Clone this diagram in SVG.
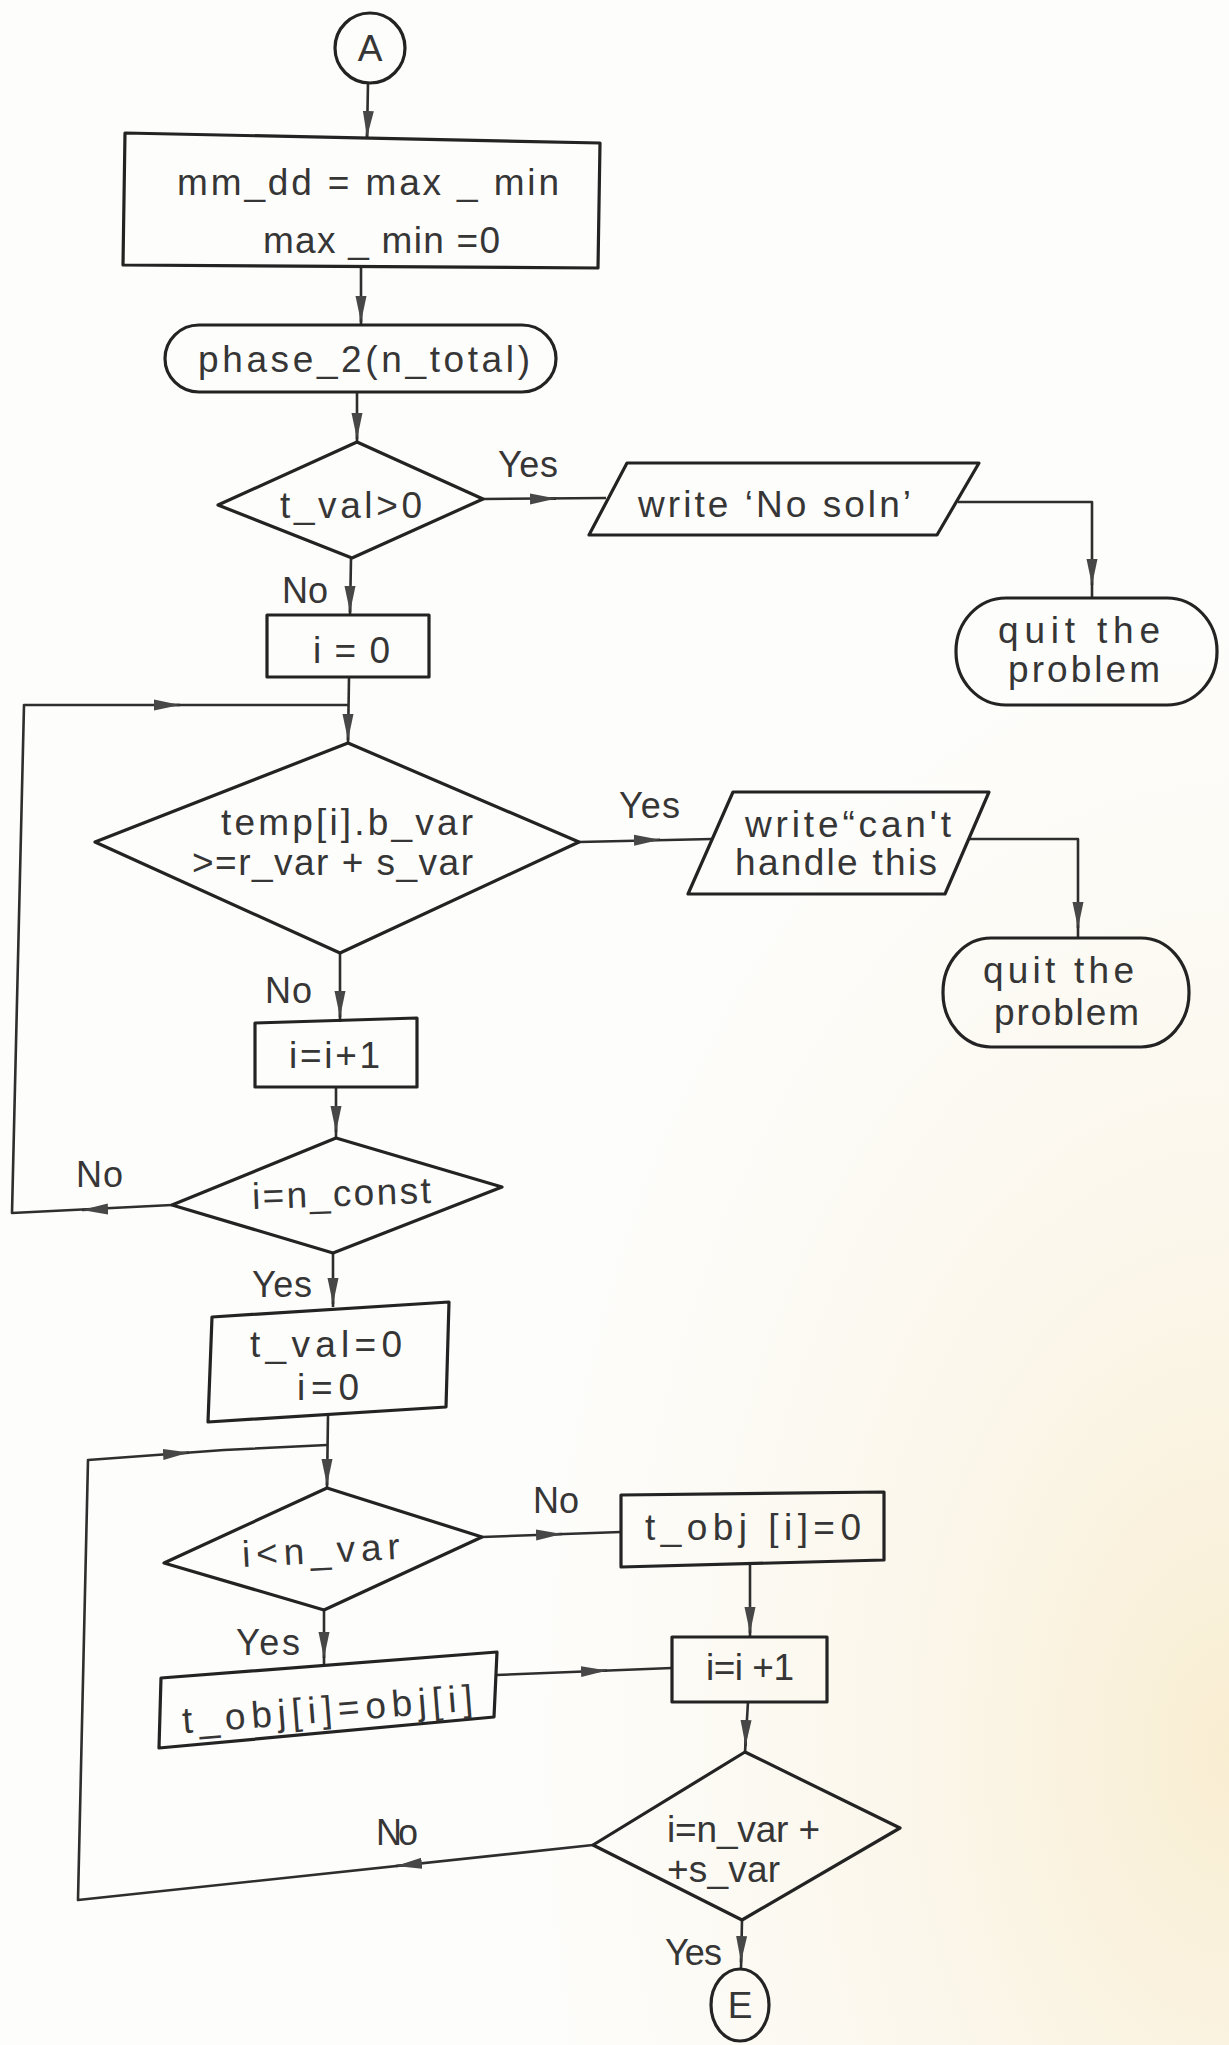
<svg xmlns="http://www.w3.org/2000/svg" width="1229" height="2045" viewBox="0 0 1229 2045">
  <defs>
    <radialGradient id="tint" cx="1229" cy="1750" r="700" gradientUnits="userSpaceOnUse" gradientTransform="translate(1229 1750) scale(1 1.6) translate(-1229 -1750)">
      <stop offset="0" stop-color="#f7e7c0" stop-opacity="0.7"/>
      <stop offset="0.55" stop-color="#f8ecd0" stop-opacity="0.3"/>
      <stop offset="1" stop-color="#f8ecd0" stop-opacity="0"/>
    </radialGradient>
    <marker id="ah" markerUnits="userSpaceOnUse" markerWidth="28" markerHeight="14" refX="26" refY="7" orient="auto">
      <path d="M0,1.5 L26,7 L0,12.5 Z" fill="#474747"/>
    </marker>
    <style>
      .shape { fill: none; stroke: #232323; stroke-width: 3.2; stroke-linejoin: round; }
      .ln { fill: none; stroke: #2e2e2e; stroke-width: 2.6; stroke-linejoin: round; }
      .ah { fill: none; stroke: #2e2e2e; stroke-width: 2.6; marker-end: url(#ah); }
      text { font-family: "Liberation Sans", Arial, sans-serif; font-size: 37px; fill: #363636; }
      .lbl { font-size: 36px; }
    </style>
  </defs>

  <!-- paper -->
  <rect x="0" y="0" width="1229" height="2045" fill="#fdfdfb"/>
  <rect x="0" y="0" width="1229" height="2045" fill="url(#tint)"/>

  <!-- connectors -->
  <g id="connectors">
    <path class="ln" d="M368 83 L367 137"/>
    <path class="ah" d="M368 118 L367 137"/>

    <path class="ln" d="M361 268 L361 324"/>
    <path class="ah" d="M361 303 L361 322"/>

    <path class="ln" d="M357 392 L357 442"/>
    <path class="ah" d="M357 418 L357 439"/>

    <path class="ln" d="M483 499 L606 498"/>
    <path class="ah" d="M533 499 L556 498.6"/>

    <path class="ln" d="M958 502 L1092 502 L1092 598"/>
    <path class="ah" d="M1092 563 L1092 585"/>

    <path class="ln" d="M351 558 L350 615"/>
    <path class="ah" d="M350 590 L350 612"/>

    <path class="ln" d="M349 677 L348 743"/>
    <path class="ah" d="M348 718 L348 740"/>

    <!-- loop back from i=n_const -->
    <path class="ln" d="M172 1205 L12 1213 L24 705 L349 705"/>
    <path class="ah" d="M106 1209 L82 1210"/>
    <path class="ah" d="M154 705 L180 705"/>

    <path class="ln" d="M579 842 L712 839"/>
    <path class="ah" d="M634 840.3 L660 839.8"/>

    <path class="ln" d="M968 839 L1078 839 L1078 939"/>
    <path class="ah" d="M1078 904 L1078 928"/>

    <path class="ln" d="M340 953 L340 1022"/>
    <path class="ah" d="M340 994 L340 1017"/>

    <path class="ln" d="M336 1087 L336 1138"/>
    <path class="ah" d="M336 1109 L336 1132"/>

    <path class="ln" d="M333 1253 L333 1307"/>
    <path class="ah" d="M333 1281 L333 1304"/>

    <path class="ln" d="M328 1415 L327 1488"/>
    <path class="ah" d="M327 1461 L327 1485"/>

    <!-- loop back from i=n_var+s_var -->
    <path class="ln" d="M593 1845 L78 1900 L88 1460 L224 1450 L327 1445"/>
    <path class="ah" d="M421 1863.4 L396 1866"/>
    <path class="ah" d="M163 1454.5 L189 1452.6"/>

    <path class="ln" d="M482 1537 L621 1532"/>
    <path class="ah" d="M537 1535 L562 1534"/>

    <path class="ln" d="M324 1610 L324 1665"/>
    <path class="ah" d="M324 1634 L324 1658"/>

    <path class="ln" d="M750 1564 L750 1637"/>
    <path class="ah" d="M750 1609 L750 1633"/>

    <path class="ln" d="M496 1675 L672 1668"/>
    <path class="ah" d="M581 1671.6 L607 1670.5"/>

    <path class="ln" d="M748 1702 L745 1752"/>
    <path class="ah" d="M746 1723 L745.5 1746"/>

    <path class="ln" d="M742 1920 L741 1969"/>
    <path class="ah" d="M741.5 1941 L741 1962"/>
  </g>

  <!-- edge labels -->
  <g id="edge-labels">
    <text class="lbl" x="498" y="477" textLength="60">Yes</text>
    <text class="lbl" x="282" y="603" textLength="46">No</text>
    <text class="lbl" x="619" y="818" textLength="61">Yes</text>
    <text class="lbl" x="265" y="1003" textLength="47">No</text>
    <text class="lbl" x="76" y="1187" textLength="47">No</text>
    <text class="lbl" x="252" y="1297" textLength="60">Yes</text>
    <text class="lbl" x="533" y="1513" textLength="46">No</text>
    <text class="lbl" x="236" y="1655" textLength="64">Yes</text>
    <text class="lbl" x="376" y="1845" textLength="42">No</text>
    <text class="lbl" x="665" y="1965" textLength="57">Yes</text>
  </g>

  <!-- nodes -->
  <g id="connector-A">
    <circle class="shape" cx="370" cy="48" r="35"/>
    <text x="370" y="61" text-anchor="middle" font-size="36">A</text>
  </g>

  <g id="init-mm-dd">
    <polygon class="shape" points="125,133 600,143 598,268 123,265"/>
    <text x="177" y="195" textLength="382">mm_dd = max _ min</text>
    <text x="263" y="253" textLength="237">max _ min =0</text>
  </g>

  <g id="call-phase-2">
    <rect class="shape" x="165" y="325" width="391" height="67" rx="34" ry="34"/>
    <text x="198" y="372" textLength="332">phase_2(n_total)</text>
  </g>

  <g id="test-t-val">
    <polygon class="shape" points="357,442 483,499 352,558 218,505"/>
    <text x="280" y="518" textLength="142">t_val&gt;0</text>
  </g>

  <g id="write-no-soln">
    <polygon class="shape" points="627,463 979,463 937,535 589,535"/>
    <text x="638" y="517" textLength="273">write ‘No soln’</text>
  </g>

  <g id="quit-1">
    <rect class="shape" x="956" y="598" width="261" height="107" rx="50" ry="53"/>
    <text x="998" y="643" textLength="162">quit the</text>
    <text x="1008" y="682" textLength="152">problem</text>
  </g>

  <g id="set-i-0">
    <rect class="shape" x="267" y="615" width="162" height="62"/>
    <text x="313" y="663" textLength="77">i=0</text>
  </g>

  <g id="test-b-var">
    <polygon class="shape" points="348,743 579,842 340,953 95,842"/>
    <text x="221" y="835" textLength="252">temp[i].b_var</text>
    <text x="192" y="875" textLength="281">&gt;=r_var + s_var</text>
  </g>

  <g id="write-cant-handle">
    <polygon class="shape" points="733,792 989,792 945,894 688,894"/>
    <text x="745" y="837" textLength="206">write“can't</text>
    <text x="735" y="875" textLength="202">handle this</text>
  </g>

  <g id="quit-2">
    <rect class="shape" x="943" y="938" width="246" height="109" rx="48" ry="54"/>
    <text x="983" y="983" textLength="151">quit the</text>
    <text x="994" y="1025" textLength="145">problem</text>
  </g>

  <g id="inc-i-1">
    <polygon class="shape" points="255,1023 417,1018 417,1087 255,1087"/>
    <text x="289" y="1068" textLength="91">i=i+1</text>
  </g>

  <g id="test-n-const">
    <polygon class="shape" points="336,1138 502,1187 333,1253 172,1205"/>
    <text x="252" y="1206" textLength="179" transform="rotate(-2 341 1196)">i=n_const</text>
  </g>

  <g id="reset-t-val">
    <polygon class="shape" points="212,1317 449,1302 446,1407 208,1422"/>
    <text x="250" y="1357" textLength="152">t_val=0</text>
    <text x="297" y="1400" textLength="62">i=0</text>
  </g>

  <g id="test-n-var">
    <polygon class="shape" points="327,1488 482,1537 324,1610 164,1563"/>
    <text x="242" y="1563" textLength="158" transform="rotate(-3 321 1553)">i&lt;n_var</text>
  </g>

  <g id="zero-t-obj">
    <polygon class="shape" points="621,1495 884,1492 884,1560 621,1567"/>
    <text x="645" y="1540" textLength="216">t_obj [i]=0</text>
  </g>

  <g id="copy-obj">
    <polygon class="shape" points="161,1678 497,1652 494,1717 159,1748"/>
    <text x="182" y="1722" textLength="291" transform="rotate(-4.5 327 1711)">t_obj[i]=obj[i]</text>
  </g>

  <g id="inc-i-2">
    <rect class="shape" x="672" y="1637" width="155" height="65"/>
    <text x="706" y="1680" textLength="88">i=i +1</text>
  </g>

  <g id="test-n-var-s-var">
    <polygon class="shape" points="745,1752 900,1828 742,1920 593,1845"/>
    <text x="667" y="1842" textLength="153">i=n_var +</text>
    <text x="667" y="1882" textLength="113">+s_var</text>
  </g>

  <g id="connector-E">
    <ellipse class="shape" cx="740" cy="2005" rx="29" ry="36"/>
    <text x="740" y="2018" text-anchor="middle" font-size="36">E</text>
  </g>
</svg>
